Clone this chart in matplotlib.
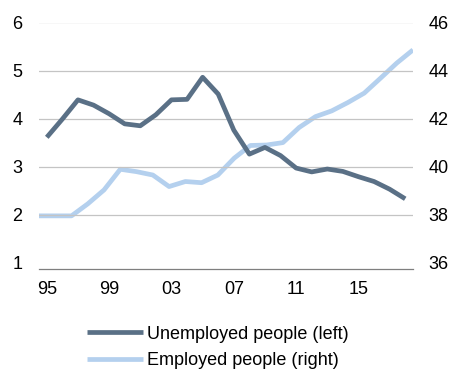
import matplotlib
matplotlib.use('Agg')
import matplotlib.pyplot as plt

plt.rcParams['font.family'] = ['Liberation Sans', 'DejaVu Sans']

years = list(range(1995, 2019))
unemployed = [3.61, 3.99, 4.39, 4.28, 4.10, 3.89, 3.85, 4.08, 4.39, 4.40,
              4.86, 4.51, 3.76, 3.26, 3.40, 3.23, 2.97, 2.89, 2.95, 2.90,
              2.79, 2.69, 2.53, 2.33]
employed = [37.95, 37.95, 37.95, 38.45, 39.03, 39.89, 39.79, 39.65, 39.17, 39.38,
            39.33, 39.65, 40.35, 40.88, 40.90, 41.00, 41.63, 42.08, 42.32, 42.67,
            43.06, 43.68, 44.31, 44.86]
tick_years = [1995, 1999, 2003, 2007, 2011, 2015]

dark = '#5a7086'
light = '#b4d0ee'
fs = 13

fig = plt.figure(figsize=(4.51, 3.69), dpi=100)
rect = [39 / 451, 1 - 268.7 / 369, 374 / 451, (268.7 - 22.5) / 369]
ax = fig.add_axes(rect)

# employed runs on a secondary category axis that spans the full width
ax2 = fig.add_axes(rect, frameon=False)
ax2.patch.set_visible(False)

idx = list(range(len(years)))
ax.plot(idx, unemployed, color=dark, lw=3.4, solid_capstyle='butt', zorder=3,
        label='Unemployed people (left)')
ax2.plot(idx, employed, color=light, lw=3.4, solid_capstyle='butt', zorder=2,
         label='Employed people (right)')

ax.set_xlim(-0.5, len(years) - 0.5)
ax.set_ylim(0.875, 6)
ax.set_yticks([1, 2, 3, 4, 5, 6])
ax.set_xticks([years.index(y) for y in tick_years])
ax.set_xticklabels([str(y)[2:] for y in tick_years])
for y in [2, 3, 4, 5, 6]:
    ax.axhline(y, color='#c4c4c4', lw=0.9, zorder=0)
for s in ['top', 'left', 'right']:
    ax.spines[s].set_visible(False)
ax.spines['bottom'].set_color('#7f7f7f')
ax.spines['bottom'].set_linewidth(0.9)
ax.tick_params(axis='x', length=0, pad=9, labelsize=fs)
ax.tick_params(axis='y', length=0, pad=12, labelsize=fs)

ax2.set_xlim(0, len(years) - 1)
ax2.set_ylim(35.75, 46)
ax2.set_yticks([36, 38, 40, 42, 44, 46])
ax2.set_xticks([])
ax2.yaxis.tick_right()
ax2.tick_params(axis='y', length=0, pad=11, labelsize=fs)
ax.set_zorder(ax2.get_zorder() + 1)
ax.patch.set_visible(False)

h1, l1 = ax.get_legend_handles_labels()
h2, l2 = ax2.get_legend_handles_labels()
fig.legend(h1 + h2, l1 + l2, loc='center left', bbox_to_anchor=(87 / 451, 1 - 347.5 / 369),
           frameon=False, fontsize=fs, handlelength=3.1, handletextpad=0.2,
           borderpad=0, borderaxespad=0, labelspacing=0.55)

fig.savefig('out.png', dpi=100)
